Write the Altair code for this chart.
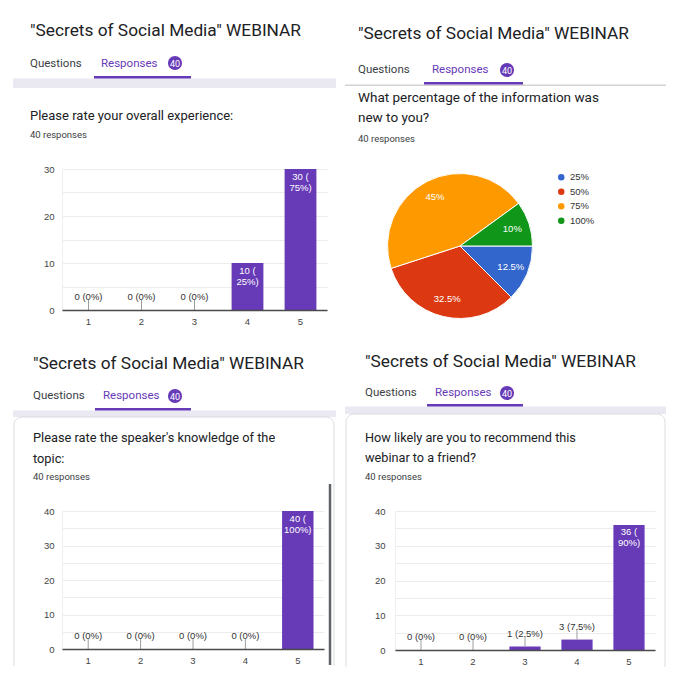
import math
import altair as alt
import pandas as pd

# ---------------- data ----------------
ratings = ["1", "2", "3", "4", "5"]
overall_counts = [0, 0, 0, 10, 30]
overall_pcts = ["0%", "0%", "0%", "25%", "75%"]
knowledge_counts = [0, 0, 0, 0, 40]
knowledge_pcts = ["0%", "0%", "0%", "0%", "100%"]
recommend_counts = [0, 0, 1, 3, 36]
recommend_pcts = ["0%", "0%", "2.5%", "7.5%", "90%"]

pie_answers = ["25%", "50%", "75%", "100%"]
pie_shares = [12.5, 32.5, 45.0, 10.0]
pie_labels = ["12.5%", "32.5%", "45%", "10%"]
pie_colors = ["#3366cc", "#dc3912", "#ff9900", "#109618"]

form_title = '"Secrets of Social Media" WEBINAR'
tab_names = ["Questions", "Responses"]
response_badge = "40"
responses_caption = "40 responses"
question_overall = ["Please rate your overall experience:"]
question_new = ["What percentage of the information was", "new to you?"]
question_knowledge = ["Please rate the speaker's knowledge of the", "topic:"]
question_recommend = ["How likely are you to recommend this", "webinar to a friend?"]

# ---------------- styling ----------------
PURPLE = "#673ab7"
INK = "#202124"
TAB_GREY = "#3c4043"
LAVENDER = "#eae8f0"
UI_FONT = "Roboto"
CHART_FONT = "Liberation Sans"
ONE = pd.DataFrame({"k": [0]})
QUAD = 340
COL1_X, COL2_X = 62, 395     # plot origins shared by each column
ROW1_Y, ROW2_Y = 169, 511    # plot origins shared by each row


class Frame:
    """Converts page coordinates into a panel's plot coordinates."""

    def __init__(self, ox, oy, qx, qy):
        self.ox, self.oy, self.qx, self.qy = ox, oy, qx, qy

    def text(self, s, gx, gy, size, color=INK, weight=400, align="left",
             baseline="alphabetic", font=UI_FONT):
        return alt.Chart(ONE).mark_text(
            text=s, fontSize=size, color=color, fontWeight=weight, font=font,
            align=align, baseline=baseline,
        ).encode(x=alt.value(gx - self.ox), y=alt.value(gy - self.oy))

    def rect(self, gx1, gy1, gx2, gy2, **props):
        return alt.Chart(ONE).mark_rect(**props).encode(
            x=alt.value(gx1 - self.ox), x2=alt.value(gx2 - self.ox),
            y=alt.value(gy1 - self.oy), y2=alt.value(gy2 - self.oy),
        )

    def vline(self, gx, gy1, gy2, color, width):
        return alt.Chart(ONE).mark_rule(color=color, strokeWidth=width).encode(
            x=alt.value(gx - self.ox), y=alt.value(gy1 - self.oy), y2=alt.value(gy2 - self.oy)
        )

    def dot(self, gx, gy, size, color):
        return alt.Chart(ONE).mark_point(
            filled=True, shape="circle", size=size, color=color, opacity=1
        ).encode(x=alt.value(gx - self.ox), y=alt.value(gy - self.oy))

    def extent(self):
        return self.rect(self.qx, self.qy, self.qx + QUAD, self.qy + QUAD,
                         color="white", opacity=0)


def header(f, title_xy, tab_y, q_tab_x, r_tab_x, badge_xy, underline, q_x, q_ys,
           q_lines, q_size, resp_y, title_size=17.3):
    layers = [
        f.text(form_title, title_xy[0], title_xy[1], title_size, INK),
        f.text(tab_names[0], q_tab_x, tab_y, 11.5, TAB_GREY),
        f.text(tab_names[1], r_tab_x, tab_y, 11.5, PURPLE),
        f.dot(badge_xy[0], badge_xy[1], 200, PURPLE),
        f.text(response_badge, badge_xy[0], badge_xy[1] + 0.5, 9, "white",
               align="center", baseline="middle"),
        f.rect(*underline, color=PURPLE),
    ]
    for line, y in zip(q_lines, q_ys):
        layers.append(f.text(line, q_x, y, q_size, INK))
    layers.append(f.text(responses_caption, q_x, resp_y, 9.5, TAB_GREY))
    return layers


def bar_layers(counts, pcts, ymax, y_label_pad, x_label_pad):
    inside = [c >= 0.2 * ymax for c in counts]
    labels = [f"{c} (\n{p})" if i else f"{c} ({p})" for c, p, i in zip(counts, pcts, inside)]
    df = pd.DataFrame({"rating": ratings, "count": counts, "label": labels, "inside": inside})
    x = alt.X(
        "rating:N", sort=ratings,
        scale=alt.Scale(paddingInner=0.4, paddingOuter=0.2),
        axis=alt.Axis(title=None, labelAngle=0, ticks=False, grid=False,
                      domainColor="#4a4a4a", domainWidth=1.5, labelFont=CHART_FONT,
                      labelFontSize=9.5, labelColor="#444444", labelPadding=x_label_pad,
                      zindex=1),
    )
    y = alt.Y(
        "count:Q",
        scale=alt.Scale(domain=[0, ymax], nice=False, zero=True),
        axis=alt.Axis(title=None, values=list(range(0, ymax + 1, 5)),
                      labelExpr="datum.value % 10 == 0 ? datum.label : ''",
                      ticks=False, domain=True, domainColor="#eeeeee",
                      gridColor="#ececec", labelFont=CHART_FONT, labelFontSize=9.5,
                      labelColor="#444444", labelPadding=y_label_pad),
    )
    base = alt.Chart(df)
    bars = base.mark_bar(color=PURPLE).encode(x=x, y=y)
    leader = base.transform_filter("!datum.inside").mark_rule(
        color="#9e9e9e", strokeWidth=1, y2Offset=-10
    ).encode(x=x, y=y, y2=alt.Y2("count"))
    outer = base.transform_filter("!datum.inside").mark_text(
        color="#333333", fontSize=9.5, font=CHART_FONT, baseline="alphabetic", dy=-10
    ).encode(x=x, y=y, text="label:N")
    inner = base.transform_filter("datum.inside").mark_text(
        color="white", fontSize=9.5, font=CHART_FONT, baseline="top", dy=2.5,
        lineBreak="\n", lineHeight=11,
    ).encode(x=x, y=y, text="label:N")
    return [bars, leader, outer, inner]


# ---------------- panel A: overall experience ----------------
fa = Frame(COL1_X, ROW1_Y, 0, 0)
panel_a = alt.layer(
    fa.extent(),
    fa.rect(13, 78.5, 336, 88, color=LAVENDER),
    *header(fa, (30, 36), 67, 30, 101, (175, 63), (94, 76, 191, 78.5), 30, [120],
            question_overall, 13, 138),
    *bar_layers(overall_counts, overall_pcts, 30, 8, 6),
).properties(width=327 - COL1_X, height=310 - ROW1_Y)

# ---------------- panel B: pie ----------------
fb = Frame(COL2_X, ROW1_Y, 340, 0)
pie_df = pd.DataFrame({"answer": pie_answers, "share": pie_shares,
                       "label": pie_labels, "slot": list(range(len(pie_answers)))})
theta = alt.Theta("share:Q", stack=True,
                  scale=alt.Scale(range=[math.pi / 2, math.pi / 2 + 2 * math.pi]))
order = alt.Order("slot:Q")
cx, cy = 460 - fb.ox, 246 - fb.oy
arcs = alt.Chart(pie_df).mark_arc(radius=72.5, stroke="white", strokeWidth=1).encode(
    theta=theta, order=order,
    color=alt.Color("answer:N", sort=pie_answers,
                    scale=alt.Scale(domain=pie_answers, range=pie_colors),
                    legend=alt.Legend(title=None, orient="none",
                                      legendX=556.5 - fb.ox, legendY=172.5 - fb.oy,
                                      symbolType="circle", symbolSize=42,
                                      symbolStrokeWidth=0, labelFont=CHART_FONT,
                                      labelFontSize=9.5, labelColor="#333333",
                                      rowPadding=3.5, labelOffset=4, padding=0)),
    x=alt.value(cx), y=alt.value(cy),
)
pie_text = alt.Chart(pie_df).mark_text(
    radius=55, fontSize=9.5, font=CHART_FONT, color="white"
).encode(theta=theta, order=order, text="label:N", x=alt.value(cx), y=alt.value(cy))
panel_b = alt.layer(
    fb.extent(),
    fb.rect(345, 84.5, 666, 86, color="#d3d3d3"),
    *header(fb, (358, 39), 73, 358, 432, (507, 70), (424, 82, 523, 84.5), 358, [102, 122],
            question_new, 13.5, 142),
    arcs, pie_text,
).properties(width=270, height=141)

# ---------------- panel C: speaker knowledge ----------------
fc = Frame(COL1_X, ROW2_Y, 0, 340)
panel_c = alt.layer(
    fc.extent(),
    fc.rect(13, 410.5, 336, 417, color=LAVENDER),
    fc.rect(14, 417, 334, 676, fill="white", fillOpacity=0, stroke="#dadce0",
            strokeWidth=1, cornerRadius=8),
    fc.rect(0, 666, 340, 680, color="white"),
    fc.vline(330, 484, 665, "#5f6368", 2.5),
    *header(fc, (33, 369), 399, 33, 103, (175, 396), (95, 408, 191, 410.5), 33, [442, 463],
            question_knowledge, 12.8, 480),
    *bar_layers(knowledge_counts, knowledge_pcts, 40, 8, 6),
).properties(width=324 - COL1_X, height=649 - ROW2_Y)

# ---------------- panel D: recommend ----------------
fd = Frame(COL2_X, ROW2_Y, 340, 340)
panel_d = alt.layer(
    fd.extent(),
    fd.rect(345, 406.5, 666, 414, color=LAVENDER),
    fd.rect(346, 414, 665, 676, fill="white", fillOpacity=0, stroke="#dadce0",
            strokeWidth=1, cornerRadius=8),
    fd.rect(340, 667, 680, 680, color="white"),
    *header(fd, (365, 367), 396, 365, 435, (507, 393), (427, 404, 523, 406.5), 365, [442, 462],
            question_recommend, 12.7, 480),
    *bar_layers(recommend_counts, recommend_pcts, 40, 10, 6),
).properties(width=655 - COL2_X, height=650 - ROW2_Y)

chart = (
    alt.concat(panel_a, panel_b, panel_c, panel_d, columns=2, spacing=0)
    .resolve_scale(color="independent")
    .properties(padding=0, background="white")
    .configure_view(stroke=None)
)

chart.save("out.html", embed_options={"renderer": "svg", "actions": False})
